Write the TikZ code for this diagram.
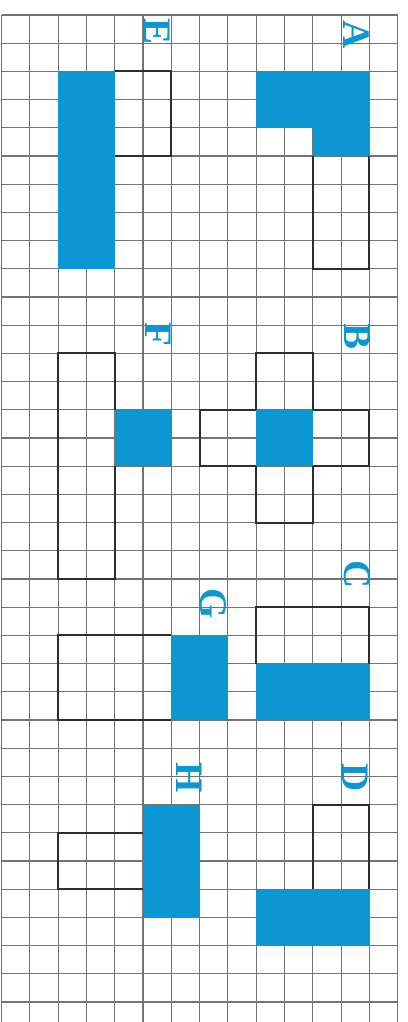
\documentclass[tikz,border=0pt]{standalone}
\usepackage{fontspec}
\setmainfont{Liberation Serif}
\definecolor{fillblue}{RGB}{12,150,210}
\definecolor{gridgray}{RGB}{115,115,115}
\definecolor{edgedark}{RGB}{45,45,45}
\begin{document}
\begin{tikzpicture}[x=1pt,y=1pt,
  gridline/.style={draw=gridgray,line width=1.1pt},
  outline/.style={draw=edgedark,line width=2pt,line join=miter},
  bluefill/.style={fill=fillblue},
  letter/.style={text=fillblue,font=\fontsize{39}{39}\selectfont\bfseries,rotate=-90,inner sep=0pt}]
\useasboundingbox (0,0) rectangle (407,-1022);
\fill[white] (0,0) rectangle (407,-1022);
\begin{scope}
\clip (0,0) rectangle (407,-1022);
\begin{scope}[shift={(1.5,-15)},x=28.3pt,y=-28.2pt]
  % grid
  \foreach \c in {0,...,14} \draw[gridline] (\c,0) -- (\c,36.5);
  \foreach \r in {0,...,35} \draw[gridline] (0,\r) -- (14,\r);
  % A
  \draw[outline] (11,5) -- (11,9) -- (13,9) -- (13,5);
  \fill[bluefill] (9,2) -- (13,2) -- (13,5) -- (11,5) -- (11,4) -- (9,4) -- cycle;
  % E
  \draw[outline] (4,2) -- (6,2) -- (6,5) -- (4,5);
  \fill[bluefill] (2,2) rectangle (4,9);
  % B
  \draw[outline] (9,12) -- (11,12) -- (11,14) -- (13,14) -- (13,16) -- (11,16) -- (11,18) -- (9,18) -- (9,16) -- (7,16) -- (7,14) -- (9,14) -- cycle;
  \fill[bluefill] (9,14) rectangle (11,16);
  % F
  \draw[outline] (4,14) -- (4,12) -- (2,12) -- (2,20) -- (4,20) -- (4,16);
  \fill[bluefill] (4,14) rectangle (6,16);
  % C
  \draw[outline] (9,23) -- (9,21) -- (13,21) -- (13,23);
  \fill[bluefill] (9,23) rectangle (13,25);
  % G
  \draw[outline] (6,22) -- (2,22) -- (2,25) -- (6,25);
  \fill[bluefill] (6,22) rectangle (8,25);
  % H
  \draw[outline] (5,29) -- (2,29) -- (2,31) -- (5,31);
  \fill[bluefill] (5,28) rectangle (7,32);
  % D
  \draw[outline] (11,31) -- (11,28) -- (13,28) -- (13,31);
  \fill[bluefill] (9,31) rectangle (13,33);
\end{scope}
\end{scope}
% letters
\node[letter] (lA) at (356,-35) {A};
\node[letter] (lE) at (157,-32) {E};
\node[letter] (lB) at (357,-337) {B};
\node[letter] (lF) at (158,-334) {F};
\node[letter] (lC) at (357,-575) {C};
\node[letter] (lG) at (213,-604) {G};
\node[letter] (lD) at (355,-778) {D};
\node[letter] (lH) at (189,-778) {H};
\end{tikzpicture}
\end{document}
